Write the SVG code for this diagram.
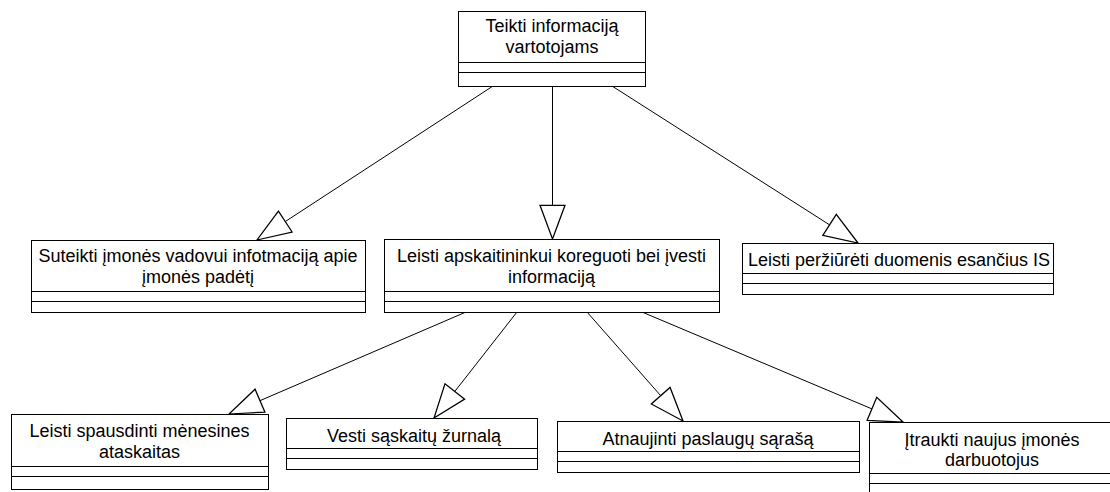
<svg xmlns="http://www.w3.org/2000/svg" width="1110" height="492" viewBox="0 0 1110 492">
<style>
.box{fill:#fff;stroke:#000;stroke-width:1}
.sep{stroke:#000;stroke-width:1}
.t{font-family:"Liberation Sans",Arial,sans-serif;font-size:18px;fill:#000;text-anchor:middle}
.c{stroke:#000;stroke-width:1;fill:none}
</style>
<defs>
<marker id="gen" markerUnits="userSpaceOnUse" markerWidth="40" markerHeight="30" viewBox="-30 -12 32 24" refX="0" refY="0" orient="auto">
<path d="M0,0 L-27,-10 L-27,10 Z" fill="#fff" stroke="#000" stroke-width="1"/>
</marker>
</defs>
<rect width="1110" height="492" fill="#fff"/>
<g id="connectors">
<line class="c" x1="493" y1="86" x2="257" y2="240" marker-end="url(#gen)"/>
<line class="c" x1="552.5" y1="86" x2="552.5" y2="239" marker-end="url(#gen)"/>
<line class="c" x1="612" y1="86" x2="858" y2="243" marker-end="url(#gen)"/>
<line class="c" x1="466" y1="312" x2="229" y2="414" marker-end="url(#gen)"/>
<line class="c" x1="517" y1="312" x2="434" y2="418" marker-end="url(#gen)"/>
<line class="c" x1="587" y1="312" x2="683" y2="421" marker-end="url(#gen)"/>
<line class="c" x1="642" y1="312" x2="903" y2="422" marker-end="url(#gen)"/>
</g>
<g id="n-top">
<rect class="box" x="458.5" y="11.5" width="187" height="75"/>
<line class="sep" x1="458" y1="62.5" x2="646" y2="62.5"/>
<line class="sep" x1="458" y1="72.5" x2="646" y2="72.5"/>
<text class="t" x="552" y="32">Teikti informaciją</text>
<text class="t" x="552" y="53">vartotojams</text>
</g>
<g id="n-vadovui">
<rect class="box" x="31.5" y="240.5" width="334" height="72"/>
<line class="sep" x1="31" y1="291.5" x2="366" y2="291.5"/>
<line class="sep" x1="31" y1="301.5" x2="366" y2="301.5"/>
<text class="t" x="198" y="262">Suteikti įmonės vadovui infotmaciją apie</text>
<text class="t" x="198" y="283">įmonės padėtį</text>
</g>
<g id="n-apskaitininkui">
<rect class="box" x="384.5" y="239.5" width="335" height="73"/>
<line class="sep" x1="384" y1="291.5" x2="720" y2="291.5"/>
<line class="sep" x1="384" y1="301.5" x2="720" y2="301.5"/>
<text class="t" x="551.5" y="262">Leisti apskaitininkui koreguoti bei įvesti</text>
<text class="t" x="551.5" y="283">informaciją</text>
</g>
<g id="n-perziureti">
<rect class="box" x="742.5" y="243.5" width="311" height="51"/>
<line class="sep" x1="742" y1="273.5" x2="1054" y2="273.5"/>
<line class="sep" x1="742" y1="283.5" x2="1054" y2="283.5"/>
<text class="t" x="899" y="266">Leisti peržiūrėti duomenis esančius IS</text>
</g>
<g id="n-spausdinti">
<rect class="box" x="11.5" y="414.5" width="257" height="75"/>
<line class="sep" x1="11" y1="466.5" x2="269" y2="466.5"/>
<line class="sep" x1="11" y1="476.5" x2="269" y2="476.5"/>
<text class="t" x="139.5" y="437">Leisti spausdinti mėnesines</text>
<text class="t" x="139.5" y="458">ataskaitas</text>
</g>
<g id="n-zurnala">
<rect class="box" x="286.5" y="418.5" width="251" height="51"/>
<line class="sep" x1="286" y1="448.5" x2="538" y2="448.5"/>
<line class="sep" x1="286" y1="458.5" x2="538" y2="458.5"/>
<text class="t" x="414" y="442">Vesti sąskaitų žurnalą</text>
</g>
<g id="n-paslaugu">
<rect class="box" x="557.5" y="421.5" width="302" height="51"/>
<line class="sep" x1="557" y1="451.5" x2="860" y2="451.5"/>
<line class="sep" x1="557" y1="461.5" x2="860" y2="461.5"/>
<text class="t" x="708" y="445">Atnaujinti paslaugų sąrašą</text>
</g>
<g id="n-darbuotojus">
<rect class="box" x="869.5" y="422.5" width="250" height="75"/>
<line class="sep" x1="869" y1="473.5" x2="1120" y2="473.5"/>
<line class="sep" x1="869" y1="483.5" x2="1120" y2="483.5"/>
<text class="t" x="992" y="446">Įtraukti naujus įmonės</text>
<text class="t" x="992" y="466">darbuotojus</text>
</g>
</svg>
